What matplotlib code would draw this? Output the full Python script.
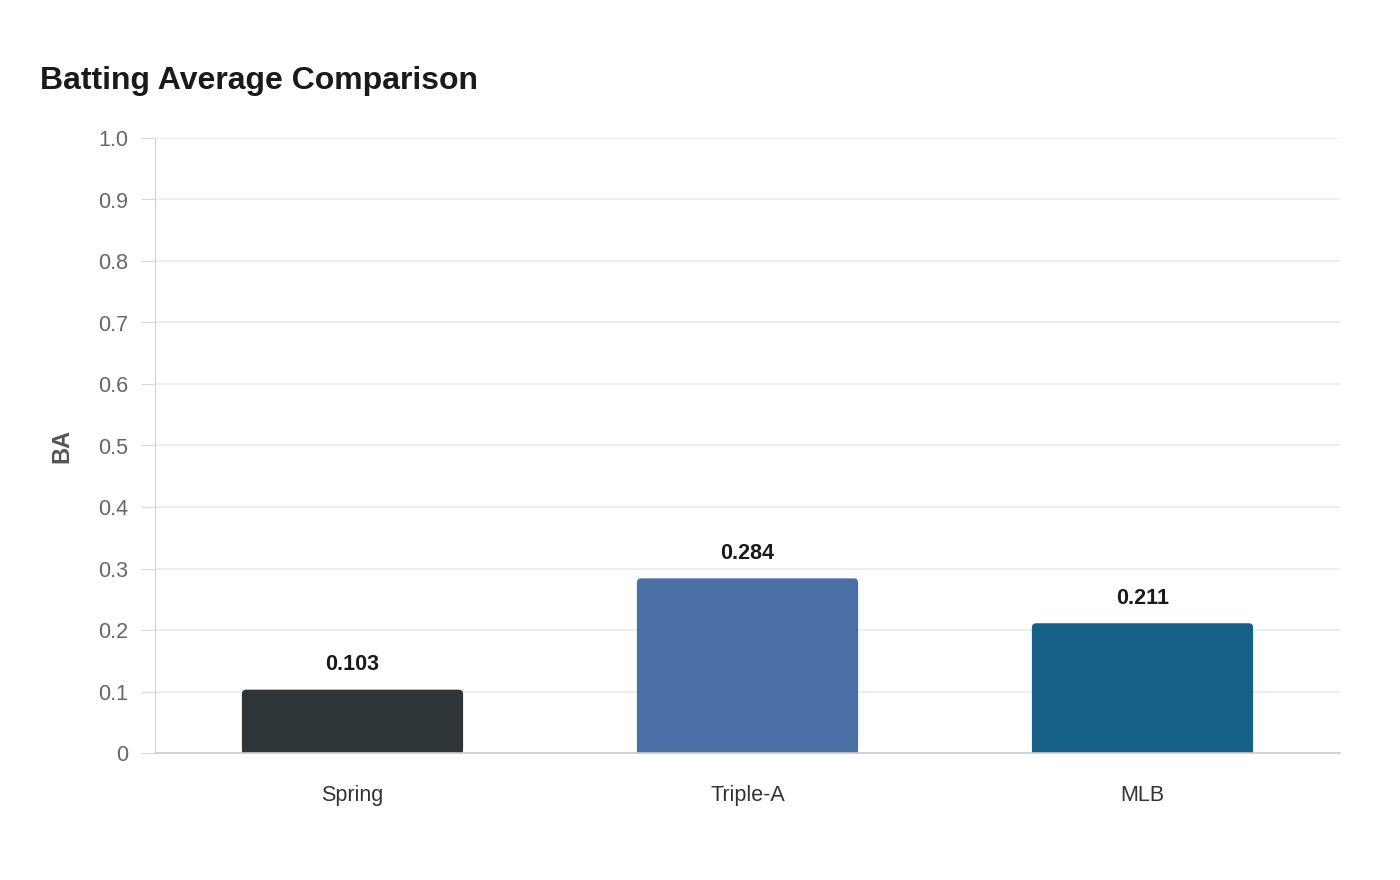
import matplotlib
matplotlib.use('Agg')
import matplotlib.pyplot as plt
from matplotlib.patches import FancyBboxPatch, Rectangle

categories = ['Spring', 'Triple-A', 'MLB']
batting_avg = [0.103, 0.284, 0.211]
bar_colors = ['#2e3538', '#4a6fa5', '#176087']
y_ticks = [0, 0.1, 0.2, 0.3, 0.4, 0.5, 0.6, 0.7, 0.8, 0.9, 1.0]
y_tick_labels = ['0', '0.1', '0.2', '0.3', '0.4', '0.5', '0.6', '0.7', '0.8', '0.9', '1.0']

plt.rcParams['font.family'] = ['Liberation Sans', 'DejaVu Sans']

fig = plt.figure(figsize=(14, 8.8), dpi=100)
ax = fig.add_axes([155 / 1400, 1 - 753 / 880, 1185 / 1400, 615 / 880])

xs = list(range(len(categories)))
bars = ax.bar(xs, batting_avg, width=0.56, color=bar_colors, zorder=3)

## swap the plain bars for ones with rounded tops
aspect = (615 / 1.0) / (1185 / 3.0)
for b in bars:
    x0, w, h, c = b.get_x(), b.get_width(), b.get_height(), b.get_facecolor()
    b.remove()
    r = 0.011
    ax.add_patch(FancyBboxPatch((x0, 0), w, h,
                                boxstyle='round,pad=0,rounding_size=%f' % r,
                                mutation_aspect=1 / aspect,
                                facecolor=c, edgecolor='none', zorder=3))
    ax.add_patch(Rectangle((x0, 0), w, h / 2, facecolor=c, edgecolor='none', zorder=3))

for x, v in zip(xs, batting_avg):
    ax.text(x, v + 0.041, '%.3f' % v, ha='center', va='center',
            fontsize=15.5, fontweight='bold', color='#1a1a1a')

ax.set_xlim(-0.5, 2.5)
ax.set_ylim(0, 1.0)
ax.set_xticks(xs)
ax.set_xticklabels(categories, fontsize=15.5, color='#333333')
ax.set_yticks(y_ticks)
ax.set_yticklabels(y_tick_labels, fontsize=15.5, color='#666666')
ax.tick_params(axis='x', length=0, pad=23)
ax.tick_params(axis='y', length=10, color='#d9d9d9', pad=9)

ax.grid(axis='y', color='#ebebeb', linewidth=1.2, zorder=0)
for s in ['top', 'right']:
    ax.spines[s].set_visible(False)
ax.spines['left'].set_color('#d0d0d0')
ax.spines['left'].set_linestyle((0, (1, 1)))
ax.spines['left'].set_linewidth(0.8)
ax.spines['bottom'].set_color('#cccccc')
ax.spines['bottom'].set_linewidth(1.2)
ax.spines['bottom'].set_zorder(4)

ax.set_ylabel('BA', fontsize=17, fontweight='bold', color='#555555')
ax.yaxis.set_label_coords((73 - 155) / 1185, 0.5)

fig.text(40 / 1400, 1 - 81 / 880, 'Batting Average Comparison', fontsize=23,
         fontweight='bold', color='#1a1a1a', ha='left', va='center')

plt.savefig('out.png', dpi=100)
